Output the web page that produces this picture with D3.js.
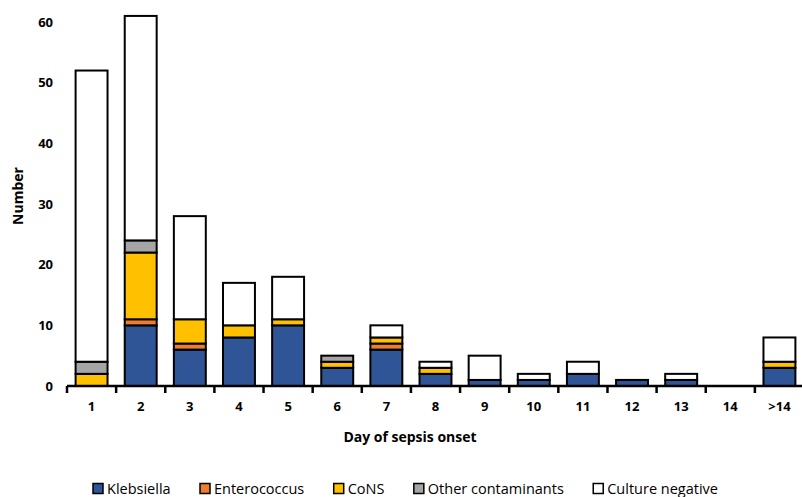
<!DOCTYPE html>
<html>
<head>
<meta charset="utf-8">
<script src="https://cdn.jsdelivr.net/npm/d3@7"></script>
<style>
  body { margin: 0; background: #fff; }
  svg text { font-family: "Open Sans", "DejaVu Sans", sans-serif; }
</style>
</head>
<body>
<div id="viz"></div>
<script>
// Day of onset categories and counts per organism group
const days = ['1', '2', '3', '4', '5', '6', '7', '8', '9', '10', '11', '12', '13', '14', '>14'];
const klebsiella      = [0, 10, 6, 8, 10, 3, 6, 2, 1, 1, 2, 1, 1, 0, 3];
const enterococcus    = [0, 1, 1, 0, 0, 0, 1, 0, 0, 0, 0, 0, 0, 0, 0];
const cons            = [2, 11, 4, 2, 1, 1, 1, 1, 0, 0, 0, 0, 0, 0, 1];
const otherContam     = [2, 2, 0, 0, 0, 1, 0, 0, 0, 0, 0, 0, 0, 0, 0];
const cultureNegative = [48, 37, 17, 7, 7, 0, 2, 1, 4, 1, 2, 0, 1, 0, 4];
const yTicks = [0, 10, 20, 30, 40, 50, 60];

const seriesNames = ['Klebsiella', 'Enterococcus', 'CoNS', 'Other contaminants', 'Culture negative'];
const seriesValues = [klebsiella, enterococcus, cons, otherContam, cultureNegative];
const colors = ['#2F5597', '#ED7D31', '#FFC000', '#A5A5A5', '#FFFFFF'];

const width = 802, height = 497;

const svg = d3.select('#viz').append('svg')
  .attr('width', width)
  .attr('height', height);

// build rows for d3.stack
const rows = days.map((d, i) => {
  const r = {day: d};
  seriesNames.forEach((s, j) => r[s] = seriesValues[j][i]);
  return r;
});
const stacked = d3.stack().keys(seriesNames)(rows);

const x = d3.scaleBand()
  .domain(days)
  .range([67, 804])
  .paddingInner(0.35)
  .paddingOuter(0.175);

const y = d3.scaleLinear()
  .domain([0, 60])
  .range([386, 22]);

// bars
svg.append('g')
  .selectAll('g')
  .data(stacked)
  .join('g')
  .attr('fill', (d, i) => colors[i])
  .selectAll('rect')
  .data(d => d.filter(p => p[1] - p[0] > 0))
  .join('rect')
  .attr('x', d => x(d.data.day))
  .attr('y', d => y(d[1]))
  .attr('width', x.bandwidth())
  .attr('height', d => y(d[0]) - y(d[1]))
  .attr('stroke', '#000')
  .attr('stroke-width', 2);

// x axis
const xAxis = svg.append('g')
  .attr('transform', `translate(0,${y(0)})`)
  .call(d3.axisBottom(x).tickSize(0).tickPadding(16));
xAxis.select('.domain').remove();
xAxis.selectAll('text')
  .style('font-size', '13px')
  .style('font-weight', 'bold')
  .attr('fill', '#000');

xAxis.append('line')
  .attr('x1', x.range()[0]).attr('x2', width)
  .attr('stroke', '#000').attr('stroke-width', 2.5);

const step = x.step();
const boundaries = [x.range()[0]]
  .concat(days.map(d => x(d) + x.bandwidth() + step * x.paddingInner() / 2));
xAxis.selectAll('.btick')
  .data(boundaries)
  .join('line')
  .attr('class', 'btick')
  .attr('x1', d => d).attr('x2', d => d)
  .attr('y1', 0).attr('y2', 7)
  .attr('stroke', '#000').attr('stroke-width', 2.5);

// y axis (labels only)
const yAxis = svg.append('g')
  .attr('transform', 'translate(61,0)')
  .call(d3.axisLeft(y).tickValues(yTicks).tickSize(0).tickPadding(8));
yAxis.select('.domain').remove();
yAxis.selectAll('text')
  .style('font-size', '13px')
  .style('font-weight', 'bold')
  .attr('fill', '#000');

// axis titles
svg.append('text')
  .attr('x', 410).attr('y', 442)
  .attr('text-anchor', 'middle')
  .style('font-size', '14px')
  .style('font-weight', 'bold')
  .text('Day of sepsis onset');

svg.append('text')
  .attr('transform', 'translate(23,196) rotate(-90)')
  .attr('text-anchor', 'middle')
  .style('font-size', '14px')
  .style('font-weight', 'bold')
  .text('Number');

// legend
const legend = svg.append('g').attr('transform', 'translate(0,489)');
const items = legend.selectAll('g')
  .data(seriesNames)
  .join('g');
items.append('rect')
  .attr('y', -5.5).attr('width', 10).attr('height', 10)
  .attr('fill', (d, i) => colors[i])
  .attr('stroke', '#000').attr('stroke-width', 1.5);
items.append('text')
  .attr('x', 14).attr('y', 5)
  .style('font-size', '14.5px')
  .attr('fill', '#000')
  .text(d => d);

// spread items from 93 to 717
const widths = [];
items.each(function() { widths.push(this.getBBox().width); });
const legendStart = 93, legendEnd = 718;
const gap = (legendEnd - legendStart - d3.sum(widths)) / (widths.length - 1);
let pos = legendStart;
items.attr('transform', (d, i) => {
  const t = `translate(${pos},0)`;
  pos += widths[i] + gap;
  return t;
});
</script>
</body>
</html>
